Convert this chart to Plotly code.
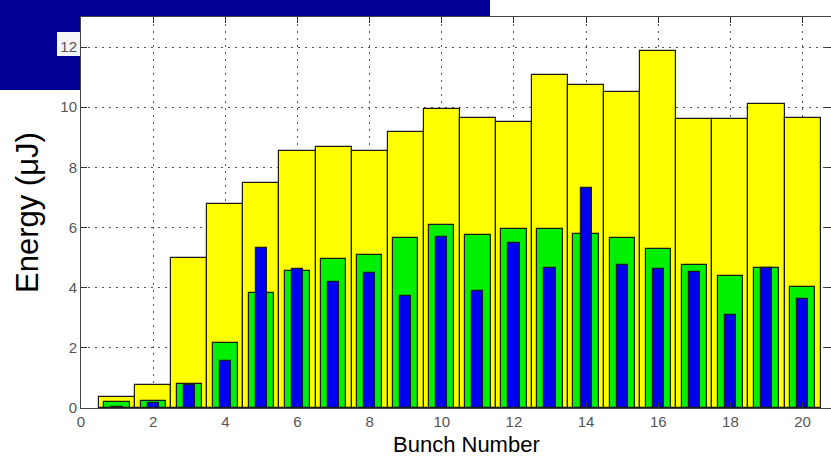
import plotly.graph_objects as go

# Bunch index and the three measured energy series (µJ)
bunches = list(range(1, 21))
energy_total = [0.37, 0.76, 4.99, 6.77, 7.49, 8.54, 8.69, 8.55, 9.18, 9.94,
                9.63, 9.50, 11.08, 10.75, 10.52, 11.87, 9.61, 9.61, 10.10, 9.65]
energy_mid = [0.20, 0.22, 0.79, 2.17, 3.84, 4.54, 4.94, 5.10, 5.66, 6.07,
              5.74, 5.96, 5.96, 5.80, 5.64, 5.30, 4.75, 4.40, 4.66, 4.03]
energy_low = [0.05, 0.18, 0.76, 1.57, 5.31, 4.63, 4.19, 4.49, 3.73, 5.69,
              3.90, 5.47, 4.65, 7.30, 4.77, 4.62, 4.52, 3.10, 4.64, 3.62]
x_ticks = list(range(0, 21, 2))
y_ticks = list(range(0, 13, 2))

W, H = 831, 458
ML, MR, MT, MB = 81, 0, 17, 50
plot_w = W - ML - MR
plot_h = H - MT - MB
px_per_unit = 36.08
x_max = plot_w / px_per_unit


def px_to_paper_x(px):
    return (px - ML) / plot_w


def px_to_paper_y(py):
    return (H - MB - py) / plot_h


fig = go.Figure()
outline = dict(color="#1a1a1a", width=1.2)
fig.add_trace(go.Bar(x=bunches, y=energy_total, width=1.0,
                     marker=dict(color="#FFFF00", line=outline)))
fig.add_trace(go.Bar(x=bunches, y=energy_mid, width=0.70,
                     marker=dict(color="#00F000", line=outline)))
fig.add_trace(go.Bar(x=bunches, y=energy_low, width=0.31,
                     marker=dict(color="#0000F0", line=outline)))

axis_common = dict(
    showline=True, linecolor="#444444", linewidth=1, mirror="allticks",
    ticks="inside", ticklen=6, tickcolor="#333333",
    showgrid=True, gridcolor="#555555", gridwidth=1, griddash="2px,5px",
    zeroline=False,
    tickfont=dict(family="Liberation Sans, Arial, sans-serif", size=15,
                  color="#555555"),
)

fig.update_xaxes(range=[0, x_max], tickvals=x_ticks, **axis_common)
fig.update_yaxes(range=[0, 13], tickvals=y_ticks, **axis_common)

# dark header band and side block
navy = "#000096"
fig.add_shape(type="rect", xref="paper", yref="paper", layer="below",
              x0=px_to_paper_x(0), x1=px_to_paper_x(490),
              y0=px_to_paper_y(16), y1=px_to_paper_y(0),
              fillcolor=navy, line_width=0)
fig.add_shape(type="rect", xref="paper", yref="paper", layer="below",
              x0=px_to_paper_x(0), x1=px_to_paper_x(80),
              y0=px_to_paper_y(90), y1=px_to_paper_y(0),
              fillcolor=navy, line_width=0)
fig.add_shape(type="rect", xref="paper", yref="paper", layer="below",
              x0=px_to_paper_x(57), x1=px_to_paper_x(80),
              y0=px_to_paper_y(56), y1=px_to_paper_y(32),
              fillcolor="#f4f4f8", line_width=0)

label_font = "Liberation Sans, Arial, sans-serif"
fig.add_annotation(text="Energy (μJ)", xref="paper", yref="paper",
                   x=px_to_paper_x(27), y=px_to_paper_y(213),
                   xanchor="center", yanchor="middle", textangle=-90,
                   showarrow=False,
                   font=dict(family=label_font, size=31, color="#000000"))
fig.add_annotation(text="Bunch Number", xref="paper", yref="paper",
                   x=px_to_paper_x(466), y=px_to_paper_y(458),
                   xanchor="center", yanchor="bottom", borderpad=0,
                   showarrow=False,
                   font=dict(family=label_font, size=22, color="#000000"))

fig.update_layout(
    width=W, height=H,
    margin=dict(l=ML, r=MR, t=MT, b=MB, pad=0),
    barmode="overlay", bargap=0,
    showlegend=False,
    plot_bgcolor="#FFFFFF", paper_bgcolor="#FFFFFF",
)

fig.write_html("out.html")
